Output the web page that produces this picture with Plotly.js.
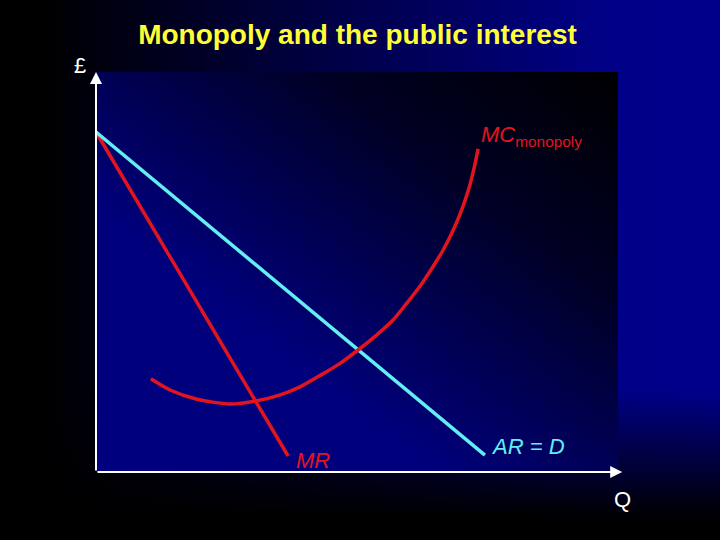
<!DOCTYPE html>
<html>
<head>
<meta charset="utf-8">
<script src="https://cdn.plot.ly/plotly-3.0.1.min.js"></script>
<style>
  html, body { margin: 0; padding: 0; width: 720px; height: 540px; overflow: hidden; }
  body {
    background:
      linear-gradient(to bottom, rgba(0,0,0,0) 72%, rgba(0,0,0,1) 96%),
      linear-gradient(to right, #000000 5%, #000088 85%, #00008c 100%);
  }
  #chart { width: 720px; height: 540px; }
</style>
</head>
<body>
<div id="chart"></div>
<script>
// Demand (average revenue) line
const arQ = [0, 74.5];
const arP = [85, 4.2];
// Marginal revenue line
const mrQ = [0, 36.8];
const mrP = [85, 4.0];
// Monopoly marginal cost curve
const mcQ = [10.5, 14.2, 19.0, 25.7, 30.8, 35.3, 39.1, 42.9, 46.7, 50.2, 53.8, 56.9, 59.6, 62.1, 64.4, 66.5, 68.2, 69.9, 71.3, 72.4, 73.2];
const mcP = [23.3, 20.5, 18.3, 17.0, 17.8, 19.3, 21.3, 24.1, 27.1, 30.5, 34.3, 38.0, 42.3, 46.5, 51.0, 55.5, 59.8, 65.0, 70.3, 75.8, 80.8];

const titleText = "Monopoly and the public interest";
const yLabel = "£";
const xLabel = "Q";
const mcLabel = "<i>MC</i><sub>monopoly</sub>";
const mrLabel = "<i>MR</i>";
const arLabel = "<i>AR = D</i>";

const RED = "#e3141e";
const CYAN = "#62eef4";
const FONT = "Liberation Sans, Arial, sans-serif";

const plotBg = '<svg xmlns="http://www.w3.org/2000/svg" width="100" height="100" viewBox="0 0 100 100" preserveAspectRatio="none">' +
  '<defs><linearGradient id="g" x1="0" y1="1" x2="1" y2="0">' +
  '<stop offset="0" stop-color="#000080"/><stop offset="0.33" stop-color="#00007c"/>' +
  '<stop offset="0.72" stop-color="#000024"/><stop offset="1" stop-color="#000000"/>' +
  '</linearGradient></defs><rect width="100" height="100" fill="url(#g)"/></svg>';

const traces = [
  { x: mrQ, y: mrP, mode: 'lines', line: { color: RED, width: 3.5 }, hoverinfo: 'skip', cliponaxis: false },
  { x: arQ, y: arP, mode: 'lines', line: { color: CYAN, width: 3.5 }, hoverinfo: 'skip', cliponaxis: false },
  { x: mcQ, y: mcP, mode: 'lines', line: { color: RED, width: 3.5, shape: 'spline', smoothing: 0.8 }, hoverinfo: 'skip', cliponaxis: false }
];

const xMax = 100, yMax = 100;

const layout = {
  width: 720, height: 540,
  margin: { l: 96, r: 102, t: 72, b: 68 },
  paper_bgcolor: 'rgba(0,0,0,0)',
  plot_bgcolor: 'rgba(0,0,0,0)',
  showlegend: false,
  title: {
    text: '<b>' + titleText + '</b>',
    font: { family: FONT, size: 28, color: '#ffff33' },
    x: 0.4965, xanchor: 'center', xref: 'container',
    y: 1 - 34 / 540, yanchor: 'middle', yref: 'container'
  },
  xaxis: { range: [0, xMax], visible: false, fixedrange: true },
  yaxis: { range: [0, yMax], visible: false, fixedrange: true },
  images: [{
    source: 'data:image/svg+xml;utf8,' + encodeURIComponent(plotBg),
    xref: 'paper', yref: 'paper', x: 0, y: 1, sizex: 1, sizey: 1,
    sizing: 'stretch', layer: 'below', xanchor: 'left', yanchor: 'top'
  }],
  annotations: [
    // y axis with arrow
    { x: 0, y: yMax, ax: 0, ay: 0, xref: 'x', yref: 'y', axref: 'x', ayref: 'y',
      text: '', showarrow: true, arrowhead: 2, arrowsize: 1.2, arrowwidth: 2, arrowcolor: '#ffffff' },
    // x axis with arrow
    { x: xMax + 0.8, y: 0, ax: 0, ay: 0, xref: 'x', yref: 'y', axref: 'x', ayref: 'y',
      text: '', showarrow: true, arrowhead: 2, arrowsize: 1.2, arrowwidth: 2, arrowcolor: '#ffffff' },
    { x: 0, y: yMax, xref: 'x', yref: 'y', text: yLabel, showarrow: false,
      xanchor: 'center', yanchor: 'middle', xshift: -16, yshift: 7,
      font: { family: FONT, size: 22, color: '#ffffff' } },
    { x: xMax, y: 0, xref: 'x', yref: 'y', text: xLabel, showarrow: false,
      xanchor: 'center', yanchor: 'middle', xshift: 4, yshift: -27,
      font: { family: FONT, size: 22, color: '#ffffff' } },
    { x: mcQ[mcQ.length - 1], y: mcP[mcP.length - 1], xref: 'x', yref: 'y', text: mcLabel, showarrow: false,
      xanchor: 'left', yanchor: 'bottom', xshift: 1, yshift: -3,
      font: { family: FONT, size: 22, color: RED } },
    { x: mrQ[mrQ.length - 1], y: mrP[mrP.length - 1], xref: 'x', yref: 'y', text: mrLabel, showarrow: false,
      xanchor: 'left', yanchor: 'middle', xshift: 6, yshift: -4,
      font: { family: FONT, size: 22, color: RED } },
    { x: arQ[arQ.length - 1], y: arP[arP.length - 1], xref: 'x', yref: 'y', text: arLabel, showarrow: false,
      xanchor: 'left', yanchor: 'middle', xshift: 4, yshift: 9,
      font: { family: FONT, size: 22, color: CYAN } }
  ]
};

Plotly.newPlot('chart', traces, layout, { staticPlot: true, displayModeBar: false });
</script>
</body>
</html>
